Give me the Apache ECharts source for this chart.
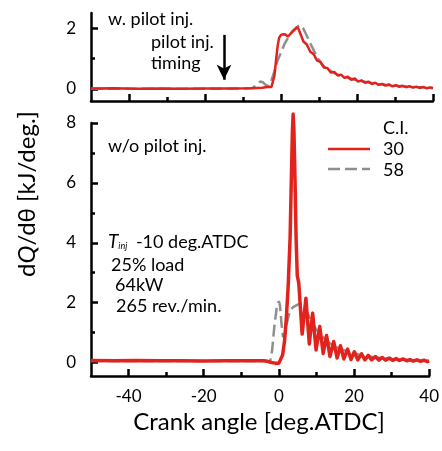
<!DOCTYPE html>
<html>
<head>
<meta charset="utf-8">
<script src="https://cdn.jsdelivr.net/npm/echarts@6/dist/echarts.min.js"></script>
<style>
html, body { margin: 0; padding: 0; background: #fff; }
#chart { width: 442px; height: 451px; }
</style>
</head>
<body>
<div id="chart"></div>
<script>
// Crank-angle axis ticks
const crankMajorTicks = [-40, -20, 0, 20, 40];
const crankMinorTicks = [-30, -10, 10, 30];
// Heat-release axis ticks
const pilotMajorTicks = [0, 2];
const pilotMinorTicks = [1];
const mainMajorTicks = [0, 2, 4, 6, 8];
const mainMinorTicks = [1, 3, 5, 7];

// Pilot injection timing [deg.ATDC]
const pilotTiming = -15;
const arrowTop = 1.78;
const arrowTip = 0.3;

// With pilot injection, C.I. 30
const pilot30Angle = [-50, -44, -38, -32, -26, -20, -14, -8, -5, -3.5, -2.5, -2.1, -1.7, -1.3, -0.9, -0.5, 0, 0.6, 1.2, 1.8, 2.4, 3.0, 3.6, 4.3, 4.7,
  5.0, 5.9, 6.8, 7.7, 8.6, 9.5, 10.4, 11.3, 12.2, 13.1, 14.0, 14.9, 15.8, 16.7, 17.6, 18.5, 19.4, 20.3, 21.2, 22.1, 23.0, 23.9, 24.8, 25.7,
  26.6, 27.5, 28.4, 29.3, 30.2, 31.1, 32.0, 32.9, 33.8, 34.7, 35.6, 36.5, 37.4, 38.3, 39.2, 40.0];
const pilot30Heat = [0.01, 0.02, 0.0, 0.01, 0.0, 0.01, 0.01, 0.02, 0.04, 0.06, 0.06, 0.1, 0.45, 0.95, 1.4, 1.68, 1.78, 1.8, 1.79, 1.72, 1.8, 1.88, 1.95, 2.03, 1.95,
  1.85, 1.56, 1.46, 1.22, 1.14, 0.93, 0.89, 0.70, 0.69, 0.54, 0.56, 0.44, 0.47, 0.36, 0.40, 0.30, 0.34, 0.24, 0.28, 0.20, 0.24, 0.16, 0.20, 0.13,
  0.165, 0.105, 0.145, 0.085, 0.12, 0.07, 0.10, 0.055, 0.085, 0.04, 0.075, 0.03, 0.065, 0.02, 0.05, 0.02];

// With pilot injection, C.I. 58
const pilot58Angle = [-50, -20, -10, -7.5, -6.5, -5.5, -4.8, -4.0, -3.3, -2.6, -1.8, -1.0, 0, 1.0, 2.0, 3.0, 4.0, 5.0, 5.8, 6.6, 7.5, 8.5, 9.5,
  10.5, 11.5, 12.5, 14, 16, 18, 20, 23, 26, 30, 35, 40];
const pilot58Heat = [0.0, 0.0, 0.01, 0.03, 0.12, 0.24, 0.22, 0.12, 0.1, 0.25, 0.55, 0.9, 1.2, 1.5, 1.72, 1.9, 2.02, 2.1, 2.0, 1.8, 1.55, 1.3, 1.05,
  0.85, 0.72, 0.63, 0.52, 0.42, 0.35, 0.28, 0.21, 0.15, 0.1, 0.06, 0.03];

// Without pilot injection, C.I. 30
const main30Angle = [-50, -44, -38, -32, -26, -20, -14, -8, -4, -3, -2, -1, 0, 0.5, 1.0, 1.5, 2.0, 2.5, 3.0, 3.3, 3.6, 3.8, 4.0, 4.3, 4.6, 4.9,
  5.3, 6.2, 7.2, 8.1, 9.0, 9.9, 10.9, 11.8, 12.7, 13.6, 14.6, 15.5, 16.4, 17.3, 18.3, 19.2, 20.1, 21.0, 22.0, 22.9, 23.8, 24.7, 25.7, 26.6,
  27.5, 28.4, 29.4, 30.3, 31.2, 32.1, 33.1, 34.0, 34.9, 35.8, 36.8, 37.7, 38.6, 39.5, 40];
const main30Heat = [0.07, 0.06, 0.07, 0.06, 0.06, 0.05, 0.06, 0.06, 0.06, 0.04, 0.0, -0.02, -0.02, 0.03, 0.25, 0.7, 1.5, 2.6, 4.2, 6.0, 7.7, 8.3, 7.8, 6.1, 4.1, 2.9,
  2.65, 0.95, 2.15, 0.62, 1.65, 0.42, 1.2, 0.3, 0.9, 0.2, 0.7, 0.15, 0.56, 0.12, 0.45, 0.1, 0.36, 0.09, 0.29, 0.09, 0.24, 0.09, 0.2, 0.08,
  0.17, 0.08, 0.15, 0.07, 0.13, 0.07, 0.12, 0.06, 0.1, 0.05, 0.09, 0.04, 0.08, 0.03, 0.05];

// Without pilot injection, C.I. 58
const main58Angle = [-50, -30, -10, -4, -3, -2.3, -1.8, -1.2, -0.6, 0, 0.3, 0.7, 1.1, 1.6, 2.2, 3.0, 3.8, 4.5, 5.3, 6.2, 7.0, 8.0, 9.0, 10.0,
  11.0, 12.0, 13.0, 14.0, 16.0, 18.0, 20.0, 23.0, 26.0, 30.0, 35.0, 40.0];
const main58Heat = [0.05, 0.05, 0.05, 0.05, 0.03, 0.05, 0.4, 1.2, 1.8, 2.05, 1.9, 1.3, 0.85, 0.95, 1.35, 1.75, 1.85, 1.9, 1.95, 1.95, 1.8, 1.55, 1.3, 1.1,
  0.95, 0.82, 0.7, 0.6, 0.47, 0.38, 0.3, 0.22, 0.17, 0.12, 0.08, 0.05];

const ciLabels = ['30', '58'];

const RED = '#e2231d';
const GREY = '#8e8e8e';
const FONT = 'Lato';
const NOTE = '18px ' + FONT;

const pairs = (xs, ys) => xs.map((x, i) => [x, ys[i]]);

function xAxisFor(gridIndex, ticks, len, showLabels, showLine) {
  return {
    type: 'value', gridIndex, min: -50, max: 40, position: 'bottom',
    axisLine: { show: showLine, onZero: false, lineStyle: { color: '#000', width: 2.5 } },
    axisTick: { show: true, inside: true, length: len, customValues: ticks, lineStyle: { color: '#000', width: 2.5 } },
    axisLabel: { show: showLabels, customValues: crankMajorTicks, color: '#000', fontSize: 17, fontFamily: FONT, margin: 12 },
    splitLine: { show: false }
  };
}
function yAxisFor(gridIndex, min, max, ticks, labels, len, showLine) {
  return {
    type: 'value', gridIndex, min, max, position: 'left',
    axisLine: { show: showLine, onZero: false, lineStyle: { color: '#000', width: 2.5 } },
    axisTick: { show: true, inside: true, length: len, customValues: ticks, lineStyle: { color: '#000', width: 2.5 } },
    axisLabel: { show: labels !== null, customValues: labels || [], color: '#000', fontSize: 17, fontFamily: FONT, margin: 15 },
    splitLine: { show: false }
  };
}

const chart = echarts.init(document.getElementById('chart'), null, { renderer: 'canvas' });
chart.setOption({
  animation: false,
  backgroundColor: '#fff',
  grid: [
    { left: 91, right: 9, top: 13, height: 88 },
    { left: 91, right: 9, top: 123, height: 253 }
  ],
  xAxis: [
    xAxisFor(0, crankMajorTicks, 7, false, true),
    xAxisFor(1, crankMajorTicks, 7, true, true),
    xAxisFor(0, crankMinorTicks, 4, false, false),
    xAxisFor(1, crankMinorTicks, 4, false, false)
  ],
  yAxis: [
    yAxisFor(0, -0.4, 2.5, pilotMajorTicks, pilotMajorTicks, 7, true),
    yAxisFor(1, -0.45, 8, mainMajorTicks, mainMajorTicks, 7, true),
    yAxisFor(0, -0.4, 2.5, pilotMinorTicks, null, 4, false),
    yAxisFor(1, -0.45, 8, mainMinorTicks, null, 4, false)
  ],
  series: [
    {
      name: ciLabels[1], type: 'line', xAxisIndex: 0, yAxisIndex: 0, showSymbol: false, symbol: 'none',
      data: pairs(pilot58Angle, pilot58Heat),
      lineStyle: { color: GREY, width: 2.5, type: [12, 5] }, z: 2,
      markLine: {
        silent: true, symbol: ['none', 'arrow'], symbolSize: [11, 15], animation: false,
        label: { show: false },
        lineStyle: { color: '#000', width: 2.5, type: 'solid' },
        data: [[{ coord: [pilotTiming, arrowTop] }, { coord: [pilotTiming, arrowTip] }]]
      }
    },
    {
      name: ciLabels[0], type: 'line', xAxisIndex: 0, yAxisIndex: 0, showSymbol: false, symbol: 'none',
      data: pairs(pilot30Angle, pilot30Heat),
      lineStyle: { color: RED, width: 2.5 }, z: 3
    },
    {
      name: ciLabels[1], type: 'line', xAxisIndex: 1, yAxisIndex: 1, showSymbol: false, symbol: 'none',
      data: pairs(main58Angle, main58Heat),
      lineStyle: { color: GREY, width: 2.5, type: [12, 5] }, z: 2
    },
    {
      name: ciLabels[0], type: 'line', xAxisIndex: 1, yAxisIndex: 1, showSymbol: false, symbol: 'none', clip: false,
      data: pairs(main30Angle, main30Heat),
      lineStyle: { color: RED, width: 3.5, join: 'round' }, z: 3
    }
  ],
  graphic: [
    // axis titles
    {
      type: 'text', x: 27, y: 194, rotation: Math.PI / 2,
      style: {
        text: 'd{q|Q}/dθ [kJ/deg.]', fill: '#000', font: '24px ' + FONT, align: 'center', verticalAlign: 'middle',
        rich: { q: { fontStyle: 'italic', fontSize: 24, fontFamily: FONT } }
      }
    },
    { type: 'text', x: 259, y: 422, style: { text: 'Crank angle [deg.ATDC]', fill: '#000', font: '24px ' + FONT, align: 'center', verticalAlign: 'middle' } },
    // panel annotations
    { type: 'text', x: 108, y: 19, style: { text: 'w. pilot inj.', fill: '#000', font: NOTE, verticalAlign: 'middle' } },
    { type: 'text', x: 151, y: 42, style: { text: 'pilot inj.', fill: '#000', font: NOTE, verticalAlign: 'middle' } },
    { type: 'text', x: 151, y: 63, style: { text: 'timing', fill: '#000', font: NOTE, verticalAlign: 'middle' } },
    { type: 'text', x: 108, y: 146, style: { text: 'w/o pilot inj.', fill: '#000', font: NOTE, verticalAlign: 'middle' } },
    {
      type: 'text', x: 108, y: 242,
      style: {
        text: '{t|T}{s|inj} -10 deg.ATDC', fill: '#000', font: NOTE, verticalAlign: 'middle',
        rich: {
          t: { fontStyle: 'italic', fontSize: 19, fontFamily: FONT },
          s: { fontStyle: 'italic', fontSize: 9, fontFamily: FONT, padding: [9, 4, 0, 0] }
        }
      }
    },
    { type: 'text', x: 111, y: 265, style: { text: '25% load', fill: '#000', font: NOTE, verticalAlign: 'middle' } },
    { type: 'text', x: 115, y: 285, style: { text: '64kW', fill: '#000', font: NOTE, verticalAlign: 'middle' } },
    { type: 'text', x: 116, y: 306, style: { text: '265 rev./min.', fill: '#000', font: NOTE, verticalAlign: 'middle' } },
    // legend
    { type: 'text', x: 383, y: 128, style: { text: 'C.I.', fill: '#000', font: NOTE, verticalAlign: 'middle' } },
    { type: 'line', shape: { x1: 328, y1: 149, x2: 370, y2: 149 }, style: { stroke: RED, lineWidth: 2.5 } },
    { type: 'text', x: 383, y: 149, style: { text: ciLabels[0], fill: '#000', font: NOTE, verticalAlign: 'middle' } },
    { type: 'line', shape: { x1: 328, y1: 169, x2: 370, y2: 169 }, style: { stroke: GREY, lineWidth: 2.5, lineDash: [12, 5] } },
    { type: 'text', x: 383, y: 170, style: { text: ciLabels[1], fill: '#000', font: NOTE, verticalAlign: 'middle' } }
  ]
});
</script>
</body>
</html>
